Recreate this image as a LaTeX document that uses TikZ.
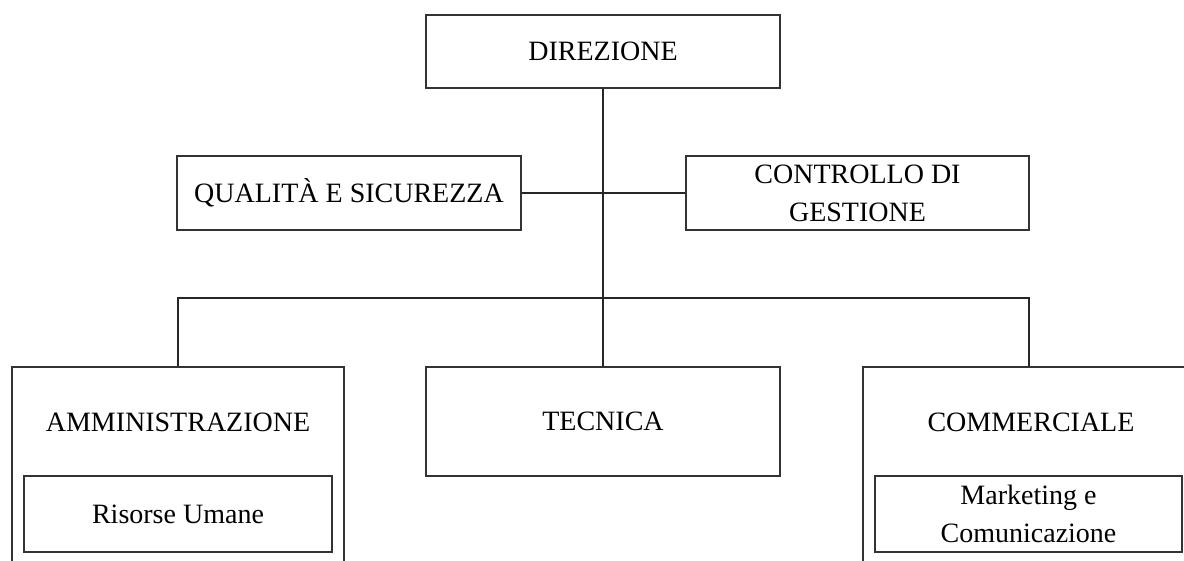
\documentclass[tikz,border=0pt]{standalone}
\usepackage{fontspec}
\setmainfont{Liberation Serif}
\begin{document}
\begin{tikzpicture}[x=1pt,y=-1pt,
  box/.style={draw=black!80, line width=1.6pt, inner sep=0pt, rectangle,
    font=\fontsize{28}{38}\selectfont, align=center},
  one/.style={text height=19pt, text depth=0pt},
  lbl/.style={inner sep=0pt, font=\fontsize{28}{38}\selectfont, text height=19pt, text depth=0pt},
  conn/.style={draw=black!85, line width=1.6pt}]
\useasboundingbox (0,0) rectangle (1184,561);
\clip (0,0) rectangle (1184,561);
\node[box,one,minimum width=354pt,minimum height=73pt] (dir) at (603,51.5) {DIREZIONE};
\node[box,one,minimum width=344pt,minimum height=74pt] (qual) at (349,193) {QUALITÀ E SICUREZZA};
\node[box,minimum width=343pt,minimum height=74pt] (ctrl) at (857.5,193) {CONTROLLO DI\\GESTIONE};
\node[box,minimum width=332pt,minimum height=260pt] (amm) at (178,497) {};
\node[lbl] (ammt) at (178,422) {AMMINISTRAZIONE};
\node[box,one,minimum width=354pt,minimum height=109pt] (tec) at (603,421.5) {TECNICA};
\node[box,minimum width=332pt,minimum height=260pt] (com) at (1029,497) {};
\node[lbl] (comt) at (1031,422) {COMMERCIALE};
\node[box,one,minimum width=308pt,minimum height=76pt] (ris) at (178,514) {Risorse Umane};
\node[box,minimum width=307pt,minimum height=76pt] (mkt) at (1028.5,514) {Marketing e\\Comunicazione};
\coordinate (bus) at (603,298);
\draw[conn] (dir.south) -- (tec.north);
\draw[conn] (qual.east) -- (qual.east -| ctrl.west);
\draw[conn] (amm.north) -- (amm.north |- bus) -- (com.north |- bus) -- (com.north);
\end{tikzpicture}
\end{document}
